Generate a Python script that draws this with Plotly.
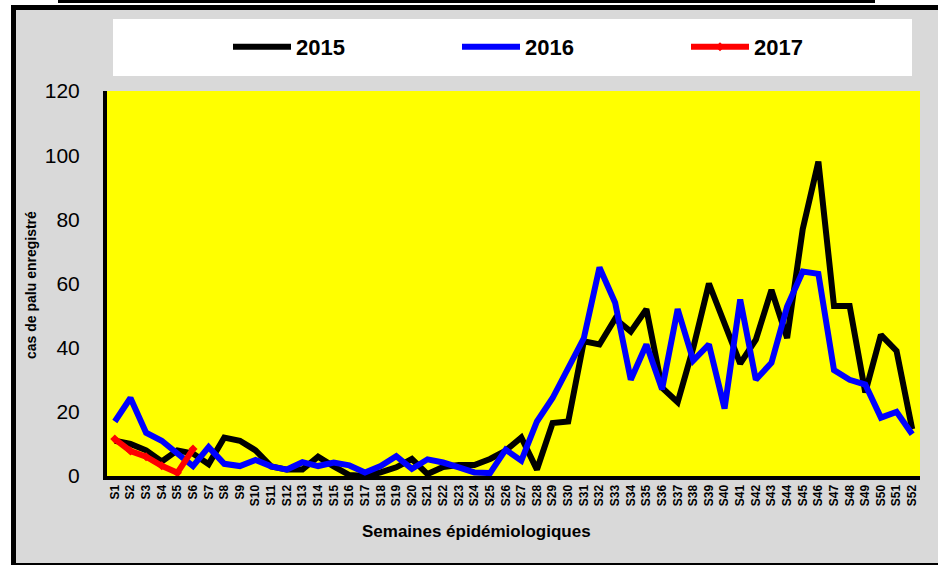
import plotly.graph_objects as go

weeks = [f"S{i}" for i in range(1, 53)]

cases_2015 = [11, 10, 8, 4.5, 8, 7, 3.7, 12, 11, 8, 3, 2, 2, 6, 3, 0.3, 0, 1.1, 2.7, 5.3,
              0.6, 2.8, 3.4, 3.4, 5.3, 7.9, 12, 2, 16.5, 17, 42, 41, 49, 45, 52, 27.5,
              23, 40, 60, 47, 35, 42.5, 58, 43, 77, 98, 53, 53, 26, 44, 39, 14.6]
cases_2016 = [17, 24.3, 13.5, 11, 7, 3.1, 9, 3.8, 3.1, 5, 3, 2, 4.3, 3.1, 4.2, 3.3, 1.1,
              3.1, 6.2, 2.2, 5.2, 4.2, 2.7, 1.1, 0.9, 8.2, 4.8, 17, 24.3, 34, 43, 65,
              54, 30, 41, 27, 52, 36, 41, 21, 55, 30, 35.3, 52.8, 63.7, 63, 33, 30,
              28.5, 18.2, 20, 13]
cases_2017 = [11.5, 7.8, 6, 3.2, 1, 8.4]

W, H = 938, 565
ML, MR, MT, MB = 107, 18, 91, 89
PW, PH = W - ML - MR, H - MT - MB


def px(x):
    return (x - ML) / PW


def py(y):
    return (H - MB - y) / PH


FONT = "Liberation Sans, Arial, sans-serif"

fig = go.Figure()
fig.add_trace(go.Scatter(x=weeks, y=cases_2015, name="2015", mode="lines",
                         line=dict(color="#000000", width=6)))
fig.add_trace(go.Scatter(x=weeks, y=cases_2016, name="2016", mode="lines",
                         line=dict(color="#0000FF", width=6)))
fig.add_trace(go.Scatter(x=weeks[:len(cases_2017)], y=cases_2017, name="2017",
                         mode="lines+markers",
                         line=dict(color="#FF0000", width=6),
                         marker=dict(symbol="diamond", size=7, color="#FF0000")))

shapes = [
    # white page margins (outside the grey chart area)
    dict(type="rect", xref="paper", yref="paper", x0=px(-2), x1=px(11), y0=py(567), y1=py(-2),
         fillcolor="#FFFFFF", line=dict(width=0), layer="below"),
    dict(type="rect", xref="paper", yref="paper", x0=px(-2), x1=px(940), y0=py(5), y1=py(-2),
         fillcolor="#FFFFFF", line=dict(width=0), layer="below"),
    # outer borders
    dict(type="rect", xref="paper", yref="paper", x0=px(11), x1=px(16), y0=py(566), y1=py(5),
         fillcolor="#000000", line=dict(width=0), layer="below"),
    dict(type="rect", xref="paper", yref="paper", x0=px(11), x1=px(940), y0=py(10), y1=py(5),
         fillcolor="#000000", line=dict(width=0), layer="below"),
    dict(type="rect", xref="paper", yref="paper", x0=px(11), x1=px(940), y0=py(566), y1=py(563),
         fillcolor="#000000", line=dict(width=0), layer="below"),
    # top stripe
    dict(type="rect", xref="paper", yref="paper", x0=px(58), x1=px(875), y0=py(3), y1=py(-1),
         fillcolor="#000000", line=dict(width=0), layer="below"),
    # legend box
    dict(type="rect", xref="paper", yref="paper", x0=px(113), x1=px(912), y0=py(76), y1=py(19),
         fillcolor="#FFFFFF", line=dict(width=0), layer="below"),
]

fig.update_layout(
    width=W, height=H,
    margin=dict(l=ML, r=MR, t=MT, b=MB, pad=0, autoexpand=False),
    paper_bgcolor="#D9D9D9",
    plot_bgcolor="#FFFF00",
    font=dict(family=FONT, color="#000000"),
    shapes=shapes,
    showlegend=True,
    legend=dict(orientation="h", x=px(228), y=py(47), xanchor="left", yanchor="middle",
                bgcolor="rgba(0,0,0,0)", itemwidth=58, entrywidth=156,
                entrywidthmode="pixels",
                font=dict(family=FONT, size=22, weight="bold", color="#000000")),
    xaxis=dict(type="category", range=[-0.5, 51.5], tickangle=-90, showgrid=False,
               showline=True, linecolor="#000000", linewidth=4, ticks="",
               tickfont=dict(family=FONT, size=12, weight="bold", color="#000000"),
               zeroline=False),
    yaxis=dict(range=[0, 120], dtick=20, showgrid=False, showline=True,
               linecolor="#000000", linewidth=4, ticks="", zeroline=False,
               ticklabelstandoff=19,
               tickfont=dict(family=FONT, size=21, color="#000000")),
    annotations=[
        dict(text="Semaines épidémiologiques", xref="paper", yref="paper",
             x=px(476), y=py(531), xanchor="center", yanchor="middle", showarrow=False,
             font=dict(family=FONT, size=17, weight="bold", color="#000000")),
        dict(text="cas de palu enregistré", xref="paper", yref="paper",
             x=px(31), y=py(285), xanchor="center", yanchor="middle", showarrow=False,
             textangle=-90,
             font=dict(family=FONT, size=14, weight="bold", color="#000000")),
    ],
)

fig.write_html("out.html",
               config={"displayModeBar": False},
               post_script="document.body.style.margin='0';document.body.style.overflow='hidden';")
